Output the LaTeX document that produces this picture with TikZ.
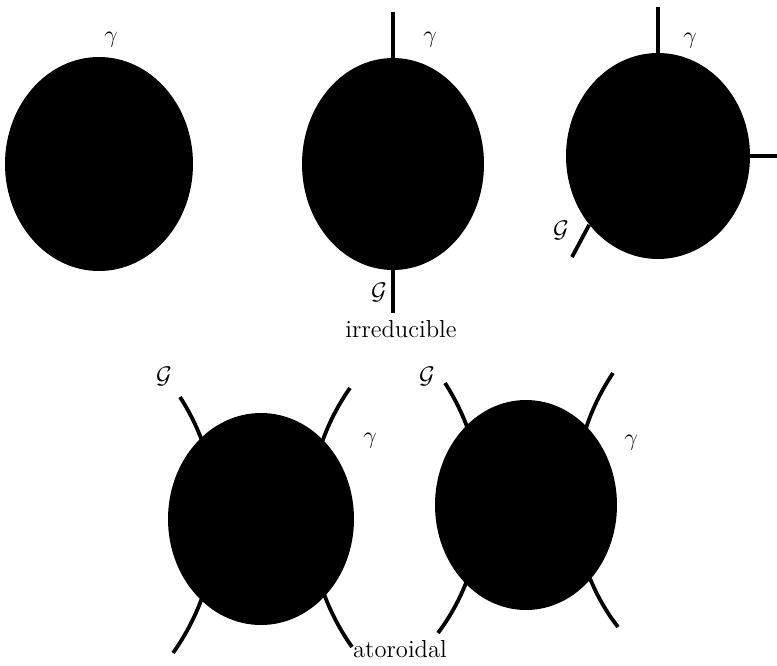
\documentclass[tikz,border=0pt]{standalone}
\usetikzlibrary{shapes.geometric}
\begin{document}
\begin{tikzpicture}[x=0.5pt,y=-0.5pt,
  blob/.style={ellipse, fill=black, draw=none, inner sep=0pt},
  leg/.style={line width=1.9pt},
  lab/.style={inner sep=0pt, font=\fontsize{12.8}{14}\selectfont}]
\useasboundingbox (0,0) rectangle (777,665);

% top row
\node[blob, minimum width=94pt, minimum height=107pt] (e1) at (99,164) {};
\node[blob, minimum width=91pt, minimum height=106pt] (e2) at (393,164) {};
\node[blob, minimum width=92pt, minimum height=103pt] (e3) at (658,156) {};

% bottom row
\node[blob, minimum width=93pt, minimum height=106pt] (e4) at (261,519) {};
\node[blob, minimum width=91pt, minimum height=105pt] (e5) at (526,505) {};

% free ends
\coordinate (t2) at (393,12);
\coordinate (b2) at (393,313);
\coordinate (t3) at (658,7);
\coordinate (r3) at (777,156);
\coordinate (l3) at (572,257);

\coordinate (a4) at (180,397);
\coordinate (z4) at (173,653);
\coordinate (c4) at (350,388);
\coordinate (y4) at (352,647);
\coordinate (a5) at (445,383);
\coordinate (z5) at (438,633);
\coordinate (c5) at (613,373);
\coordinate (y5) at (618,627);

% legs
\draw[leg] (e2.north) -- (t2);
\draw[leg] (e2.south) -- (b2);
\draw[leg] (e3.north) -- (t3);
\draw[leg] (e3.east) -- (r3);
\draw[leg] (e3.225) -- (l3);

\draw[leg] (a4) .. controls (231,476) and (227,577) .. (z4);
\draw[leg] (c4) .. controls (295,466) and (297,569) .. (y4);
\draw[leg] (a5) .. controls (496,462) and (492,561) .. (z5);
\draw[leg] (c5) .. controls (560,452) and (562,555) .. (y5);

% labels
\node[lab] (g1) at (111,40) {$\gamma$};
\node[lab] (g2) at (430,40) {$\gamma$};
\node[lab] (g3) at (690,41) {$\gamma$};
\node[lab] (G2) at (379,292) {$\mathcal{G}$};
\node[lab] (G3) at (561,230) {$\mathcal{G}$};
\node[lab, anchor=base, font=\fontsize{12.3}{14}\selectfont] (irr) at (401,337) {irreducible};

\node[lab] (G4) at (164,376) {$\mathcal{G}$};
\node[lab] (g4) at (370,441) {$\gamma$};
\node[lab] (G5) at (427,376) {$\mathcal{G}$};
\node[lab] (g5) at (631,443) {$\gamma$};
\node[lab, anchor=base, font=\fontsize{12.3}{14}\selectfont] (ato) at (400,657) {atoroidal};
\end{tikzpicture}
\end{document}
